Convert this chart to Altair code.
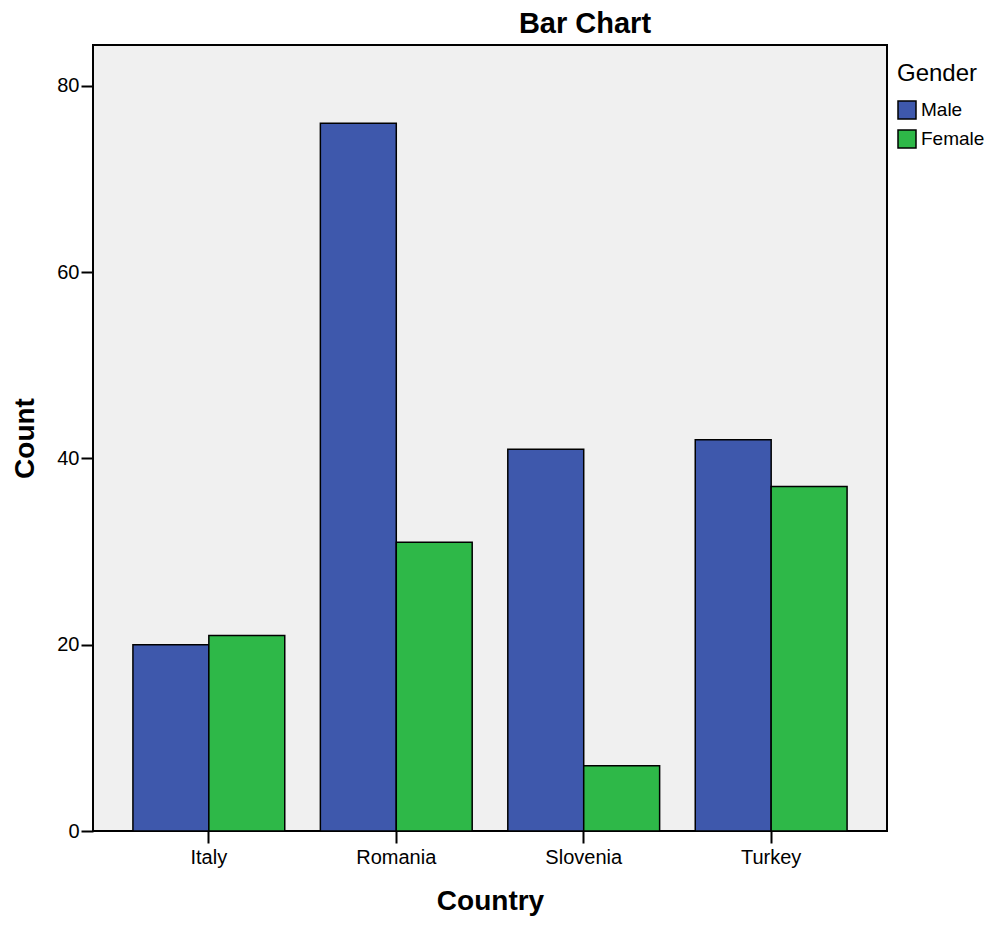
import altair as alt
import pandas as pd

countries = ["Italy", "Romania", "Slovenia", "Turkey"]
genders = ["Male", "Female"]
male_counts = [20, 76, 41, 42]
female_counts = [21, 31, 7, 37]
y_ticks = [0, 20, 40, 60, 80]
colors = ["#3e58ac", "#2eb848"]

rows = []
for c, m, f in zip(countries, male_counts, female_counts):
    rows.append({"Country": c, "Gender": "Male", "Count": m})
    rows.append({"Country": c, "Gender": "Female", "Count": f})
df = pd.DataFrame(rows)

FONT = "Liberation Sans"

chart = alt.Chart(df).mark_bar(stroke="black", strokeWidth=1.5).encode(
    x=alt.X("Country:N", sort=countries,
            scale=alt.Scale(paddingInner=0.19, paddingOuter=0.213),
            axis=alt.Axis(title="Country", labelAngle=0, labelFontSize=20,
                          labelColor="black", tickSize=12, tickWidth=2,
                          tickColor="black", domain=False, labelPadding=4,
                          labelFont=FONT, titleFont=FONT,
                          titleFontSize=28, titleFontWeight="bold",
                          titleColor="black", titlePadding=20)),
    xOffset=alt.XOffset("Gender:N", sort=genders,
                        scale=alt.Scale(paddingInner=0, paddingOuter=0)),
    y=alt.Y("Count:Q", scale=alt.Scale(domain=[0, 84.4], nice=False),
            axis=alt.Axis(title="Count", values=y_ticks, labelFontSize=20,
                          labelColor="black", tickSize=12, tickWidth=2,
                          tickColor="black", domain=False, grid=False,
                          labelFont=FONT, titleFont=FONT,
                          labelPadding=2, titleFontSize=28,
                          titleFontWeight="bold", titleColor="black",
                          titlePadding=17)),
    color=alt.Color("Gender:N", sort=genders,
                    scale=alt.Scale(domain=genders, range=colors),
                    legend=alt.Legend(title="Gender", orient="none",
                                      legendX=804, legendY=17,
                                      symbolType="square", symbolSize=324,
                                      symbolStrokeColor="black",
                                      symbolStrokeWidth=1.5,
                                      symbolOpacity=1,
                                      labelFont=FONT, titleFont=FONT,
                                      titleFontSize=24, titleFontWeight="normal",
                                      titleColor="black", titlePadding=14,
                                      labelFontSize=19, labelColor="black",
                                      labelOffset=4, rowPadding=5, padding=0)),
).properties(
    width=794,
    height=786,
    title=alt.TitleParams("Bar Chart", fontSize=29, fontWeight="bold",
                          font=FONT, color="black", anchor="middle",
                          dx=95, offset=6),
    autosize=alt.AutoSizeParams(type="none"),
    padding={"left": 85, "top": 37, "right": 100, "bottom": 87},
).configure_view(
    fill="#f0f0f0", stroke="black", strokeWidth=2
)

chart.save("out.html", embed_options={"renderer": "svg", "actions": False})
